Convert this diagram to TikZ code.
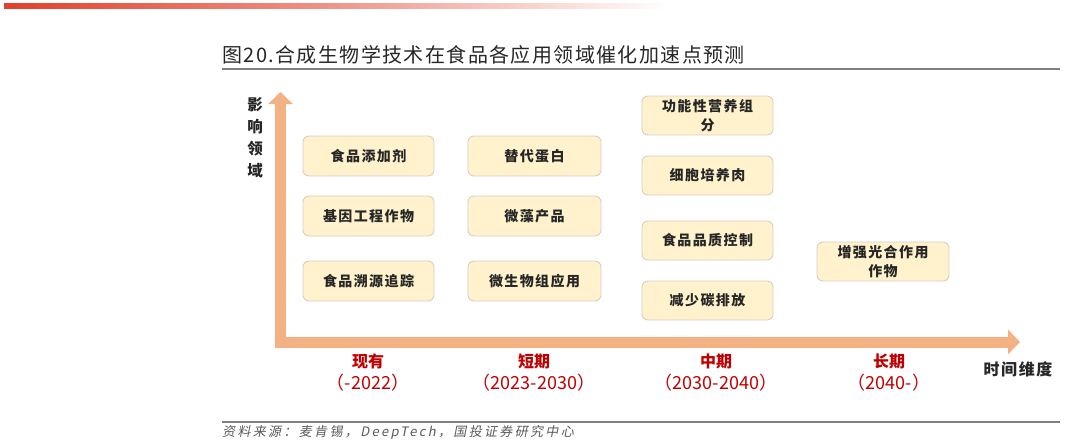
\documentclass[tikz,border=0pt]{standalone}
\usepackage{fontspec}
\usetikzlibrary{arrows.meta}
\newfontfamily\cjk{Noto Sans CJK SC}
\newfontfamily\cjkbox{Noto Sans CJK SC}[LetterSpace=10]
\newfontfamily\cjktitle{Noto Sans CJK SC}[LetterSpace=7]
\newfontfamily\cjksrc{Noto Sans CJK SC}[LetterSpace=18,FakeSlant=0.2]
\definecolor{boxfill}{HTML}{FFF2CC}
\definecolor{boxline}{HTML}{DCCBC4}
\definecolor{axiscol}{HTML}{F4B183}
\definecolor{redlab}{HTML}{C00000}
\definecolor{barred}{HTML}{E2402A}
\definecolor{rulegray}{HTML}{7F7F7F}
\tikzset{
  itembox/.style={draw=boxline, fill=boxfill, rounded corners=6, line width=0.9,
    minimum width=131, minimum height=40, align=center, inner sep=2,
    font=\cjkbox\bfseries\fontsize{14}{19}\selectfont, text=black!85},
  periodlab/.style={align=center, text=redlab, font=\cjk\fontsize{16}{22}\selectfont},
  axislab/.style={align=center, text=black!85, font=\cjkbox\bfseries\fontsize{15.5}{22}\selectfont},
  axisline/.style={draw=axiscol, line width=11, line join=miter,
    {Triangle[width=24,length=12]}-{Triangle[width=24,length=12]}},
}
\newcommand{\yrs}[1]{{\fontsize{18}{22}\selectfont #1}}
\begin{document}
\begin{tikzpicture}[x=1pt,y=-1pt]
\useasboundingbox (0,0) rectangle (1067,444);
% top gradient bar
\shade[left color=barred, right color=white, middle color=barred!55] (4,4) rectangle (670,9);
% title
\node[anchor=west, inner sep=0, font=\cjktitle\fontsize{20}{24}\selectfont, text=black!85] (title) at (222,55) {图20.合成生物学技术在食品各应用领域催化加速点预测};
\draw[rulegray, line width=1.8] (222,69) -- (1060,69);
% axes
\coordinate (ytop) at (280.5,92);
\coordinate (corner) at (280.5,342);
\coordinate (xend) at (1020,342);
\draw[axisline] (ytop) -- (corner) -- (xend);
\node[axislab] (ylab) at (255,138) {影\\响\\领\\域};
\node[axislab, font=\cjkbox\bfseries\fontsize{16}{22}\selectfont] (xlab) at (1018,369) {时间维度};
% column 1
\node[itembox] (a1) at (368.5,156) {食品添加剂};
\node[itembox] (a2) at (368.5,216) {基因工程作物};
\node[itembox] (a3) at (368.5,281) {食品溯源追踪};
% column 2
\node[itembox, minimum width=133] (b1) at (534.5,156) {替代蛋白};
\node[itembox, minimum width=133] (b2) at (534.5,216) {微藻产品};
\node[itembox, minimum width=133] (b3) at (534.5,281) {微生物组应用};
% column 3
\node[itembox, minimum height=39] (c1) at (707.5,115.5) {功能性营养组\\分};
\node[itembox, minimum height=39] (c2) at (707.5,175.5) {细胞培养肉};
\node[itembox, minimum height=39] (c3) at (707.5,240.5) {食品品质控制};
\node[itembox, minimum height=39] (c4) at (707.5,300.5) {减少碳排放};
% column 4
\node[itembox, minimum height=39, minimum width=132] (d1) at (883,261.5) {增强光合作用\\作物};
% period labels
\node[periodlab] (p1) at (368,373) {\textbf{现有}\\\yrs{（-2022）}};
\node[periodlab] (p2) at (534,373) {\textbf{短期}\\\yrs{（2023-2030）}};
\node[periodlab] (p3) at (716,373) {\textbf{中期}\\\yrs{（2030-2040）}};
\node[periodlab] (p4) at (889,373) {\textbf{长期}\\\yrs{（2040-）}};
% source
\draw[rulegray, line width=1.2] (222,422) -- (1060,422);
\node[anchor=west, inner sep=0, text=black!65, font=\cjksrc\fontsize{13}{16}\selectfont] (src) at (222,432) {资料来源：麦肯锡，DeepTech，国投证券研究中心};
\end{tikzpicture}
\end{document}
